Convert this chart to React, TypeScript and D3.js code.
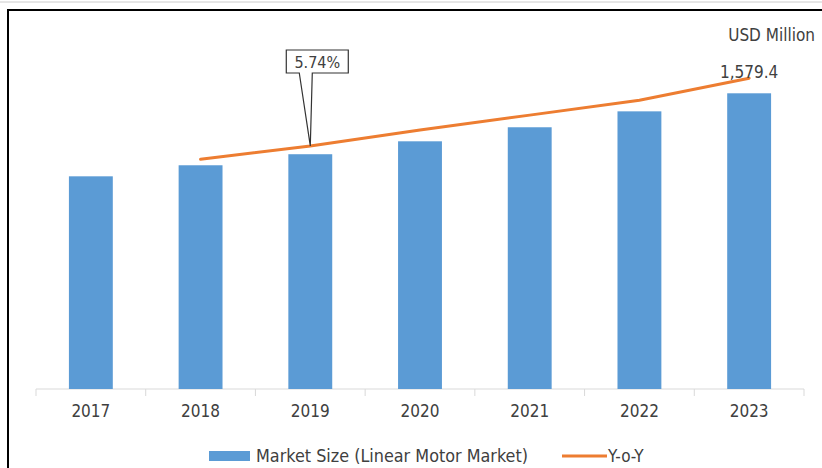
import * as d3 from "d3";

const years = ["2017", "2018", "2019", "2020", "2021", "2022", "2023"];
const marketSize = [1136, 1195, 1254, 1323, 1398, 1483, 1579.4];
const yoyYears = ["2018", "2019", "2020", "2021", "2022", "2023"];
const yoyValues = [4.48, 4.74, 5.05, 5.34, 5.63, 6.06];
const calloutYear = "2019";
const calloutLabel = "5.74%";
const lastLabel = "1,579.4";

const width = 822;
const height = 468;
const margin = { left: 36, right: 18, top: 52, bottom: 79 };
const baseline = height - margin.bottom;
const font = "'Liberation Sans Narrow', 'DejaVu Sans Condensed', Arial, sans-serif";

const App = () => {
    const x = d3
        .scaleBand<string>()
        .domain(years)
        .range([margin.left, width - margin.right])
        .paddingInner(0.6)
        .paddingOuter(0.3);

    const y = d3.scaleLinear().domain([0, 1800]).range([baseline, margin.top]);
    const y2 = d3.scaleLinear().domain([0, 7]).range([baseline, 30]);

    const cx = (yr: string) => (x(yr) ?? 0) + x.bandwidth() / 2;

    const line = d3
        .line<number>()
        .x((_, i) => cx(yoyYears[i]))
        .y((d) => y2(d));

    // callout tip sits on the line
    const ci = yoyYears.indexOf(calloutYear);
    const tipX = cx(calloutYear);
    const tipY = y2(yoyValues[ci]);
    const box = { x0: tipX - 24, x1: tipX + 38, y0: 50, y1: 73 };
    const callout = `M${box.x0},${box.y0} H${box.x1} V${box.y1} H${tipX + 2} L${tipX},${tipY} L${tipX - 11},${box.y1} H${box.x0} Z`;

    const boundaries = d3.range(years.length + 1).map((i) => margin.left + i * x.step());
    const last = years[years.length - 1];

    return (
        <svg
            width={width}
            height={height}
            style={{ position: "absolute", left: 0, top: 0, background: "#fff" }}
        >
            <line x1={0} x2={width} y1={2} y2={2} stroke="#ccc" strokeWidth={1} />
            <rect x={8} y={10} width={width + 20} height={height + 20} fill="none" stroke="#000" strokeWidth={2} />

            {/* axis */}
            <line x1={margin.left} x2={width - margin.right} y1={baseline} y2={baseline} stroke="#d9d9d9" strokeWidth={1} />
            {boundaries.map((bx, i) => (
                <line key={i} x1={bx} x2={bx} y1={baseline} y2={baseline + 7} stroke="#d9d9d9" strokeWidth={1} />
            ))}

            {marketSize.map((v, i) => (
                <rect
                    key={years[i]}
                    x={x(years[i])}
                    y={y(v)}
                    width={x.bandwidth()}
                    height={baseline - y(v)}
                    fill="#5b9bd5"
                />
            ))}

            {years.map((yr) => (
                <text
                    key={yr}
                    x={cx(yr)}
                    y={baseline + 28}
                    textAnchor="middle"
                    fontFamily={font}
                    fontSize={17}
                    fill="#404040"
                >
                    {yr}
                </text>
            ))}

            <path d={line(yoyValues) ?? ""} fill="none" stroke="#ed7d31" strokeWidth={3} strokeLinecap="round" />

            <path d={callout} fill="#fff" stroke="#333" strokeWidth={1.2} />
            <text
                x={(box.x0 + box.x1) / 2}
                y={(box.y0 + box.y1) / 2 + 6}
                textAnchor="middle"
                fontFamily={font}
                fontSize={16}
                fill="#404040"
            >
                {calloutLabel}
            </text>

            <text x={cx(last)} y={y(marketSize[marketSize.length - 1]) - 15} textAnchor="middle" fontFamily={font} fontSize={17} fill="#404040">
                {lastLabel}
            </text>
            <text x={815} y={41} textAnchor="end" fontFamily={font} fontSize={17} fill="#404040">
                USD Million
            </text>

            {/* legend */}
            <rect x={209} y={451} width={41} height={10} fill="#5b9bd5" />
            <text x={256} y={462} fontFamily={font} fontSize={17} fill="#404040" textLength={272} lengthAdjust="spacingAndGlyphs">
                Market Size (Linear Motor Market)
            </text>
            <line x1={562} x2={607} y1={456} y2={456} stroke="#ed7d31" strokeWidth={3} />
            <text x={608} y={462} fontFamily={font} fontSize={17} fill="#404040">
                Y-o-Y
            </text>
        </svg>
    );
};

export default App;
